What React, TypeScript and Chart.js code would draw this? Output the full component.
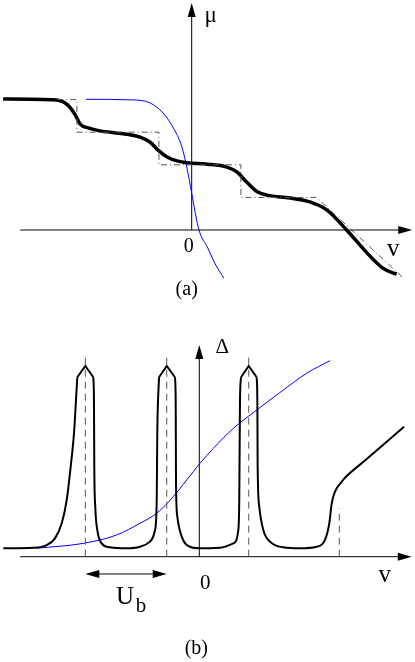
import React, { useEffect, useRef } from "react";
import { Chart, registerables } from "chart.js";

Chart.register(...registerables);

// ---------- Panel (a): chemical potential mu versus gate voltage v ----------
// v in units of U_b, mu in units of one plateau step
const muCurveV = [-2.30, -1.65, -1.51, -1.42, -1.36, -1.26, -1.12, -0.79, -0.63, -0.51, -0.41, -0.30, -0.18, -0.06, 0.19, 0.43, 0.55, 0.67, 0.80, 0.92, 1.20, 1.44, 1.65, 1.89, 2.14, 2.33, 2.46, 2.50];
const muCurveMu = [4.02, 3.99, 3.83, 3.53, 3.25, 3.13, 3.04, 2.94, 2.85, 2.70, 2.45, 2.24, 2.12, 2.06, 2.02, 1.93, 1.78, 1.47, 1.17, 1.07, 0.98, 0.86, 0.61, 0.0, -0.71, -1.17, -1.32, -1.35];

const stairV = [-1.64, -1.40, -1.40, -0.40, -0.40, 0.60, 0.60, 1.52, 2.58];
const stairMu = [4, 4, 3, 3, 2, 2, 1, 1, -1.47];

const muBlueV = [-1.29, -0.72, -0.51, -0.35, -0.23, -0.12, -0.06, 0.0, 0.06, 0.10, 0.19, 0.28, 0.39];
const muBlueMu = [4.01, 3.99, 3.90, 3.59, 3.16, 2.55, 1.93, 1.13, 0.31, -0.09, -0.52, -1.01, -1.47];

// ---------- Panel (b): gap Delta versus v ----------
// smooth parts of the gap curve (null = pointed peak cap, drawn separately)
const gapV = [-2.408, -2.039, -1.875, -1.773, -1.690, -1.629, -1.580, -1.539, -1.515, -1.499, -1.400, -1.302, -1.294, -1.290, -1.278, -1.253, -1.199, -1.097, -0.892, -0.729, -0.606, -0.544, -0.523, -0.516, -0.495, -0.400, -0.299, -0.290, -0.286, -0.270, -0.216, -0.114, 0.009, 0.254, 0.418, 0.479, 0.491, 0.500, 0.512, 0.607, 0.705, 0.713, 0.717, 0.737, 0.786, 0.869, 1.032, 1.237, 1.442, 1.544, 1.597, 1.627, 1.667, 1.749, 1.811, 2.057, 2.260, 2.515];
const gapDelta = [0.44, 0.47, 0.61, 0.96, 1.75, 2.97, 4.72, 6.49, 8.22, 9.41, null, 9.41, 8.22, 4.72, 2.62, 1.40, 0.70, 0.49, 0.44, 0.52, 0.79, 1.40, 2.97, 6.49, 9.41, null, 9.41, 8.22, 3.86, 2.10, 1.05, 0.52, 0.44, 0.47, 0.70, 1.40, 2.97, 8.22, 9.41, null, 9.41, 8.22, 4.72, 2.62, 1.40, 0.79, 0.49, 0.44, 0.52, 0.88, 1.75, 2.80, 3.41, 3.93, 4.23, 5.12, 5.87, 6.82];

// pointed caps of the three peaks
const capV = [-1.499, -1.400, -1.302, null, -0.495, -0.400, -0.299, null, 0.512, 0.607, 0.705];
const capDelta = [9.41, 10.0, 9.41, null, 9.41, 10.0, 9.41, null, 9.41, 10.0, 9.41];

const gapBlueV = [-1.998, -1.425, -1.015, -0.729, -0.523, -0.319, -0.155, 0.009, 0.172, 0.418, 0.705, 1.032, 1.319, 1.606];
const gapBlueDelta = [0.44, 0.70, 1.14, 1.75, 2.28, 3.15, 4.02, 4.90, 5.68, 6.73, 7.69, 8.74, 9.62, 10.28];

const resonanceV = [-1.40, -0.40, 0.607];
const resonanceTop = 10.68;
const edgeV = 1.72;
const edgeTop = 2.55;

// axis extents
const aAxisV = [-2.09, 2.69];
const aAxisMu = [0, 6.96];
const bAxisV = [-2.20, 2.61];
const bAxisDelta = [0, 11.1];
const ubSpan = [-1.40, -0.40];
const ubLevel = -0.907;

const zeroLabel = "0";
const FONT = '"Liberation Serif", "Times New Roman", serif';

const pts = (xs: (number | null)[], ys: (number | null)[]) =>
  xs.map((x, i) => ({ x: x === null ? NaN : x, y: ys[i] === null ? NaN : ys[i] }));

function arrowHead(ctx: CanvasRenderingContext2D, x: number, y: number, dx: number, dy: number, len = 14, half = 4) {
  const px = -dy, py = dx;
  ctx.beginPath();
  ctx.moveTo(x, y);
  ctx.lineTo(x - dx * len + px * half, y - dy * len + py * half);
  ctx.lineTo(x - dx * len - px * half, y - dy * len - py * half);
  ctx.closePath();
  ctx.fill();
}

function axes(ctx: CanvasRenderingContext2D, chart: any, hx: number[], vy: number[]) {
  const xs = chart.scales.x, ys = chart.scales.y;
  const ox = xs.getPixelForValue(0), oy = ys.getPixelForValue(0);
  const x1 = xs.getPixelForValue(hx[0]), x2 = xs.getPixelForValue(hx[1]);
  const y1 = ys.getPixelForValue(vy[0]), y2 = ys.getPixelForValue(vy[1]);
  ctx.save();
  ctx.strokeStyle = "#000";
  ctx.fillStyle = "#000";
  ctx.lineWidth = 1;
  ctx.beginPath();
  ctx.moveTo(x1, oy);
  ctx.lineTo(x2 - 10, oy);
  ctx.moveTo(ox, y1);
  ctx.lineTo(ox, y2 + 10);
  ctx.stroke();
  arrowHead(ctx, x2, oy, 1, 0);
  arrowHead(ctx, ox, y2, 0, -1);
  ctx.restore();
}

function text(ctx: CanvasRenderingContext2D, s: string, x: number, y: number, size: number) {
  ctx.font = `${size}px ${FONT}`;
  ctx.fillStyle = "#000";
  ctx.textAlign = "center";
  ctx.textBaseline = "middle";
  ctx.fillText(s, x, y);
}

const panelAPlugin = {
  id: "panelA",
  beforeDatasetsDraw(chart: any) {
    axes(chart.ctx, chart, aAxisV, aAxisMu);
  },
  afterDatasetsDraw(chart: any) {
    const ctx = chart.ctx;
    const xs = chart.scales.x, ys = chart.scales.y;
    const ox = xs.getPixelForValue(0), oy = ys.getPixelForValue(0);
    const top = ys.getPixelForValue(aAxisMu[1]);
    const right = xs.getPixelForValue(aAxisV[1]);
    ctx.save();
    text(ctx, "μ", ox + 19, top + 13, 23);
    text(ctx, zeroLabel, ox - 3, oy + 17, 20);
    text(ctx, "v", right - 19, oy + 19, 25);
    text(ctx, "(a)", ox - 5, oy + 60, 20);
    ctx.restore();
  },
};

const panelBPlugin = {
  id: "panelB",
  beforeDatasetsDraw(chart: any) {
    axes(chart.ctx, chart, bAxisV, bAxisDelta);
  },
  afterDatasetsDraw(chart: any) {
    const ctx = chart.ctx;
    const xs = chart.scales.x, ys = chart.scales.y;
    const ox = xs.getPixelForValue(0), oy = ys.getPixelForValue(0);
    const top = ys.getPixelForValue(bAxisDelta[1]);
    const right = xs.getPixelForValue(bAxisV[1]);
    ctx.save();
    // U_b double arrow
    const ax1 = xs.getPixelForValue(ubSpan[0]);
    const ax2 = xs.getPixelForValue(ubSpan[1]);
    const ay = ys.getPixelForValue(ubLevel);
    ctx.strokeStyle = "#000";
    ctx.fillStyle = "#000";
    ctx.lineWidth = 1;
    ctx.beginPath();
    ctx.moveTo(ax1 + 8, ay);
    ctx.lineTo(ax2 - 8, ay);
    ctx.stroke();
    arrowHead(ctx, ax1, ay, -1, 0);
    arrowHead(ctx, ax2, ay, 1, 0);
    const mid = (ax1 + ax2) / 2;
    text(ctx, "U", mid - 1, ay + 23, 25);
    text(ctx, "b", mid + 15, ay + 32, 21);
    text(ctx, "Δ", ox + 23, top + 2, 21);
    text(ctx, zeroLabel, ox + 6, oy + 27, 21);
    text(ctx, "v", right - 27, oy + 19, 25);
    text(ctx, "(b)", ox - 3, oy + 92, 20);
    ctx.restore();
  },
};

function baseOptions(xmin: number, xmax: number, ymin: number, ymax: number): any {
  return {
    responsive: false,
    animation: false,
    spanGaps: false,
    layout: { padding: 0 },
    plugins: { legend: { display: false }, tooltip: { enabled: false } },
    elements: { point: { radius: 0 } },
    scales: {
      x: { type: "linear", min: xmin, max: xmax, display: false },
      y: { type: "linear", min: ymin, max: ymax, display: false },
    },
  };
}

export default function App() {
  const refA = useRef<HTMLCanvasElement>(null);
  const refB = useRef<HTMLCanvasElement>(null);

  useEffect(() => {
    const chartA = new Chart(refA.current!, {
      type: "line",
      data: {
        datasets: [
          {
            data: pts(stairV, stairMu),
            borderColor: "#555",
            borderWidth: 1,
            borderDash: [6, 3, 1, 3],
            tension: 0,
            fill: false,
          },
          {
            data: pts(muCurveV, muCurveMu),
            borderColor: "#000",
            borderWidth: 3.5,
            cubicInterpolationMode: "monotone",
            fill: false,
          },
          {
            data: pts(muBlueV, muBlueMu),
            borderColor: "#0000ff",
            borderWidth: 1,
            cubicInterpolationMode: "monotone",
            fill: false,
          },
        ],
      },
      options: baseOptions(-2.3378, 2.7232, -2.1472, 7.0552),
      plugins: [panelAPlugin],
    } as any);

    const dashed = [...resonanceV.map((v) => ({ v, top: resonanceTop })), { v: edgeV, top: edgeTop }].map((d) => ({
      data: [
        { x: d.v, y: 0 },
        { x: d.v, y: d.top },
      ],
      borderColor: "#555",
      borderWidth: 1,
      borderDash: [7, 5],
      tension: 0,
      fill: false,
    }));

    const chartB = new Chart(refB.current!, {
      type: "line",
      data: {
        datasets: [
          ...dashed,
          {
            data: pts(gapV, gapDelta),
            borderColor: "#000",
            borderWidth: 2,
            cubicInterpolationMode: "monotone",
            fill: false,
          },
          {
            data: pts(capV, capDelta),
            borderColor: "#000",
            borderWidth: 2,
            tension: 0,
            borderJoinStyle: "miter",
            fill: false,
          },
          {
            data: pts(gapBlueV, gapBlueDelta),
            borderColor: "#0000ff",
            borderWidth: 1,
            cubicInterpolationMode: "monotone",
            fill: false,
          },
        ],
      },
      options: baseOptions(-2.4484, 2.6499, -5.5218, 13.461),
      plugins: [panelBPlugin],
    } as any);

    return () => {
      chartA.destroy();
      chartB.destroy();
    };
  }, []);

  return (
    <div style={{ position: "absolute", left: 0, top: 0, width: 415, height: 662, background: "#fff" }}>
      <canvas ref={refA} width={415} height={300} style={{ display: "block" }} />
      <canvas ref={refB} width={415} height={362} style={{ display: "block" }} />
    </div>
  );
}
